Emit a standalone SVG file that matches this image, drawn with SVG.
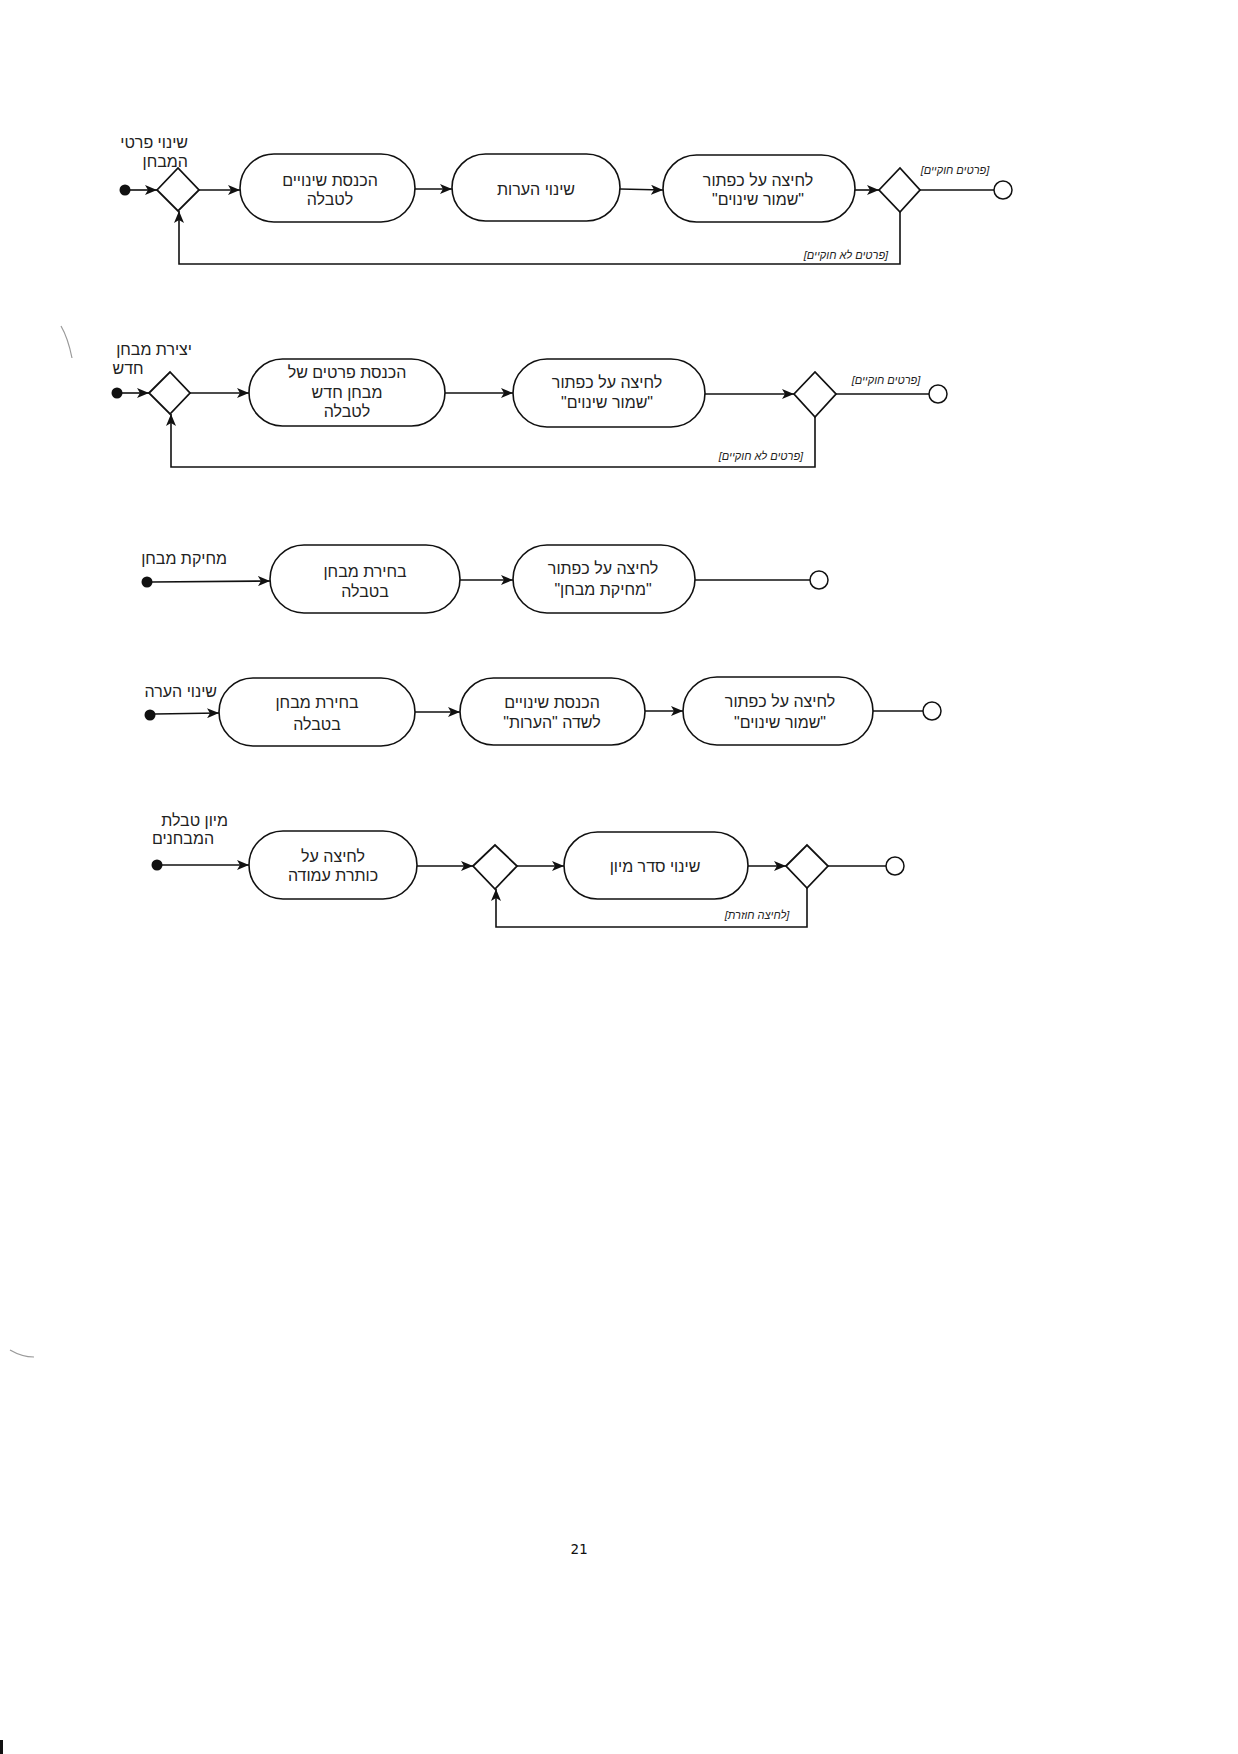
<svg xmlns="http://www.w3.org/2000/svg" width="1238" height="1754" viewBox="0 0 1238 1754">
<style>
.bg{fill:#fff}
.act{fill:#fff;stroke:#111;stroke-width:1.6}
.dec{fill:#fff;stroke:#111;stroke-width:1.8}
.ini{fill:#111}
.fin{fill:#fff;stroke:#111;stroke-width:1.5}
.ln{fill:none;stroke:#111;stroke-width:1.6}
.arr{fill:none;stroke:#111;stroke-width:1.6;marker-end:url(#ah)}
.t{font-family:"Liberation Sans","DejaVu Sans",Arial,sans-serif;font-size:16px;fill:#222;text-anchor:middle}
.lb{font-family:"Liberation Sans","DejaVu Sans",Arial,sans-serif;font-size:16px;fill:#222;text-anchor:end}
.g{font-family:"Liberation Sans","DejaVu Sans",Arial,sans-serif;font-size:11px;font-style:italic;fill:#222;text-anchor:middle}
.pg{font-family:"DejaVu Sans Mono","Liberation Mono",monospace;font-size:14px;fill:#111;text-anchor:middle}
.noise{fill:none;stroke:#999;stroke-width:1.2}
</style>
<defs>
<marker id="ah" viewBox="0 0 12 10" refX="12" refY="5" markerWidth="12" markerHeight="10" markerUnits="userSpaceOnUse" orient="auto">
<path d="M0,0 L12,5 L0,10 L3,5 Z" fill="#111"/>
</marker>
</defs>
<rect class="bg" x="0" y="0" width="1238" height="1754"/>

<g id="connectors">
<!-- row 1 -->
<line class="arr" x1="130" y1="190" x2="157" y2="190"/>
<line class="arr" x1="199" y1="190" x2="240" y2="190"/>
<line class="arr" x1="415" y1="189" x2="452" y2="189"/>
<line class="arr" x1="620" y1="189" x2="663" y2="190"/>
<line class="arr" x1="855" y1="190" x2="879" y2="190"/>
<line class="ln" x1="920" y1="190" x2="994" y2="190"/>
<polyline class="arr" points="900,212 900,264 179,264 179,211"/>
<!-- row 2 -->
<line class="arr" x1="122" y1="393" x2="149" y2="393"/>
<line class="arr" x1="190" y1="393" x2="249" y2="393"/>
<line class="arr" x1="445" y1="393" x2="513" y2="393"/>
<line class="arr" x1="705" y1="394" x2="794" y2="394"/>
<line class="ln" x1="836" y1="394" x2="929" y2="394"/>
<polyline class="arr" points="815,417 815,467 171,467 171,414"/>
<!-- row 3 -->
<line class="arr" x1="152" y1="582" x2="270" y2="581"/>
<line class="arr" x1="460" y1="580" x2="513" y2="580"/>
<line class="ln" x1="695" y1="580" x2="810" y2="580"/>
<!-- row 4 -->
<line class="arr" x1="155" y1="714" x2="219" y2="713"/>
<line class="arr" x1="415" y1="712" x2="460" y2="712"/>
<line class="arr" x1="645" y1="711" x2="683" y2="711"/>
<line class="ln" x1="873" y1="711" x2="923" y2="711"/>
<!-- row 5 -->
<line class="arr" x1="162" y1="865" x2="249" y2="865"/>
<line class="arr" x1="417" y1="866" x2="473" y2="866"/>
<line class="arr" x1="517" y1="866" x2="564" y2="866"/>
<line class="arr" x1="748" y1="866" x2="786" y2="866"/>
<line class="ln" x1="828" y1="866" x2="886" y2="866"/>
<polyline class="arr" points="807,888 807,927 496,927 496,889"/>
</g>

<g id="guards">
<text class="g" direction="rtl" x="955" y="174">[פרטים חוקיים]</text>
<text class="g" direction="rtl" x="846" y="259">[פרטים לא חוקיים]</text>
<text class="g" direction="rtl" x="886" y="384">[פרטים חוקיים]</text>
<text class="g" direction="rtl" x="761" y="460">[פרטים לא חוקיים]</text>
<text class="g" direction="rtl" x="757" y="919">[לחיצה חוזרת]</text>
</g>

<!-- Row 1 -->
<g id="r1-start">
<circle class="ini" cx="125" cy="190" r="5.5"/>
<text class="lb" x="188" y="148">שינוי פרטי</text>
<text class="lb" x="188" y="167">המבחן</text>
</g>
<g id="r1-dec1"><polygon class="dec" points="157,190 178,168 199,190 178,211"/></g>
<g id="r1-a1">
<rect class="act" x="240" y="154" width="175" height="68" rx="34"/>
<text class="t" x="330" y="186">הכנסת שינויים</text>
<text class="t" x="330" y="205">לטבלה</text>
</g>
<g id="r1-a2">
<rect class="act" x="452" y="154" width="168" height="67" rx="33.5"/>
<text class="t" x="536" y="195">שינוי הערות</text>
</g>
<g id="r1-a3">
<rect class="act" x="663" y="155" width="192" height="67" rx="33.5"/>
<text class="t" x="758" y="186">לחיצה על כפתור</text>
<text class="t" direction="rtl" x="758" y="205">"שמור שינוים"</text>
</g>
<g id="r1-dec2"><polygon class="dec" points="879,190 900,168 920,190 900,212"/></g>
<g id="r1-end"><circle class="fin" cx="1003" cy="190" r="9"/></g>

<!-- Row 2 -->
<g id="r2-start">
<circle class="ini" cx="117" cy="393" r="5.5"/>
<text class="lb" x="192" y="355">יצירת מבחן</text>
<text class="t" x="128" y="374">חדש</text>
</g>
<g id="r2-dec1"><polygon class="dec" points="149,393 170,372 190,393 170,414"/></g>
<g id="r2-a1">
<rect class="act" x="249" y="359" width="196" height="67" rx="33.5"/>
<text class="t" x="347" y="378">הכנסת פרטים של</text>
<text class="t" x="347" y="398">מבחן חדש</text>
<text class="t" x="347" y="417">לטבלה</text>
</g>
<g id="r2-a2">
<rect class="act" x="513" y="359" width="192" height="68" rx="34"/>
<text class="t" x="607" y="388">לחיצה על כפתור</text>
<text class="t" direction="rtl" x="607" y="408">"שמור שינוים"</text>
</g>
<g id="r2-dec2"><polygon class="dec" points="794,394 815,372 836,394 815,417"/></g>
<g id="r2-end"><circle class="fin" cx="938" cy="394" r="9"/></g>

<!-- Row 3 -->
<g id="r3-start">
<circle class="ini" cx="147" cy="582" r="5.5"/>
<text class="lb" x="227" y="564">מחיקת מבחן</text>
</g>
<g id="r3-a1">
<rect class="act" x="270" y="545" width="190" height="68" rx="34"/>
<text class="t" x="365" y="577">בחירת מבחן</text>
<text class="t" x="365" y="597">בטבלה</text>
</g>
<g id="r3-a2">
<rect class="act" x="513" y="545" width="182" height="68" rx="34"/>
<text class="t" x="603" y="574">לחיצה על כפתור</text>
<text class="t" direction="rtl" x="603" y="595">"מחיקת מבחן"</text>
</g>
<g id="r3-end"><circle class="fin" cx="819" cy="580" r="9"/></g>

<!-- Row 4 -->
<g id="r4-start">
<circle class="ini" cx="150" cy="715" r="5.5"/>
<text class="lb" x="217" y="697">שינוי הערה</text>
</g>
<g id="r4-a1">
<rect class="act" x="219" y="678" width="196" height="68" rx="34"/>
<text class="t" x="317" y="708">בחירת מבחן</text>
<text class="t" x="317" y="730">בטבלה</text>
</g>
<g id="r4-a2">
<rect class="act" x="460" y="678" width="185" height="67" rx="33.5"/>
<text class="t" x="552" y="708">הכנסת שינויים</text>
<text class="t" direction="rtl" x="552" y="728">לשדה "הערות"</text>
</g>
<g id="r4-a3">
<rect class="act" x="683" y="677" width="190" height="68" rx="34"/>
<text class="t" x="780" y="707">לחיצה על כפתור</text>
<text class="t" direction="rtl" x="780" y="728">"שמור שינוים"</text>
</g>
<g id="r4-end"><circle class="fin" cx="932" cy="711" r="9"/></g>

<!-- Row 5 -->
<g id="r5-start">
<circle class="ini" cx="157" cy="865" r="5.5"/>
<text class="lb" x="228" y="826">מיון טבלת</text>
<text class="t" x="183" y="844">המבחנים</text>
</g>
<g id="r5-a1">
<rect class="act" x="249" y="831" width="168" height="68" rx="34"/>
<text class="t" x="333" y="862">לחיצה על</text>
<text class="t" x="333" y="881">כותרת עמודה</text>
</g>
<g id="r5-dec1"><polygon class="dec" points="473,866 495,845 517,866 495,889"/></g>
<g id="r5-a2">
<rect class="act" x="564" y="832" width="184" height="67" rx="33.5"/>
<text class="t" x="655" y="872">שינוי סדר מיון</text>
</g>
<g id="r5-dec2"><polygon class="dec" points="786,866 807,845 828,866 807,888"/></g>
<g id="r5-end"><circle class="fin" cx="895" cy="866" r="9"/></g>

<text class="pg" x="579" y="1554">21</text>

<g id="scan-marks">
<path class="noise" d="M61,326 Q68,338 72,358"/>
<path class="noise" d="M10,1350 Q22,1357 34,1357"/>
<rect x="0" y="1740" width="3" height="14" fill="#111"/>
</g>
</svg>
